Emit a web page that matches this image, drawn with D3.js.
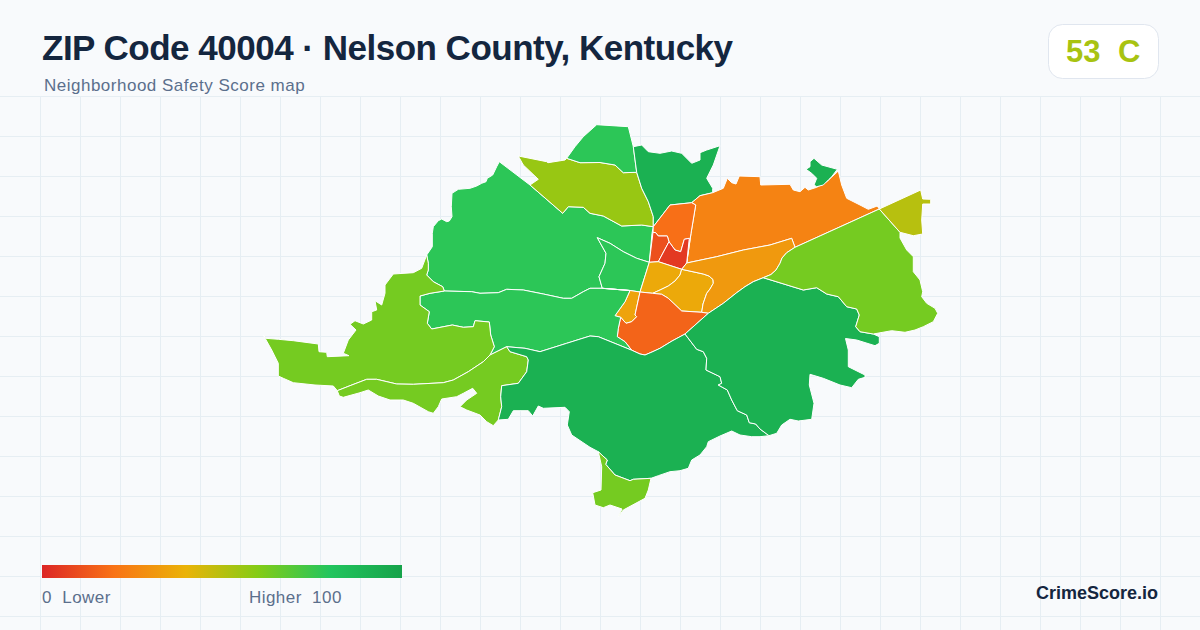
<!DOCTYPE html>
<html><head><meta charset="utf-8">
<script src="https://d3js.org/d3.v7.min.js"></script>
<style>html,body{margin:0;padding:0;background:#f8fafc}svg{display:block}text{font-family:"Liberation Sans",Arial,sans-serif}</style>
</head><body><svg id="c" width="1200" height="630"></svg>
<script>
const titleText = "ZIP Code 40004 · Nelson County, Kentucky";
const subtitleText = "Neighborhood Safety Score map";
const overallScore = 53, overallGrade = "C";
const brandText = "CrimeScore.io";
const legendLabels = ["0  Lower", "Higher  100"];
const colorDomain = [0, 20, 40, 60, 80, 100];
const colorRange = ["#dc2626", "#f97316", "#eab308", "#84cc16", "#22c55e", "#16a34a"];

// shared borders of the map, in map units
const nwOuter = [[499.3,161.7],[496.7,166.7],[492.7,175],[487.3,178.3],[486,181.7],[481.7,183.3],[476.7,186],[470,188.3],[458.3,189.3],[452,193.3],[451.3,206.7],[452,216.7],[449.3,221],[446.7,221.7],[441.7,219],[438.3,220.7],[433.3,226.7],[432.3,233.3],[432.3,246.7],[426.7,255]];
const nwLime = [[426.7,255],[428.3,263.3],[428.3,270],[426.7,275],[433.3,281.7],[442.7,286.7],[444.3,291]];
const nwBand = [[444.3,291],[471.7,291.7],[480,293.3],[498.3,292.7],[506.7,289.3],[523.3,290],[543.3,294],[563.3,298.3],[571.7,298.3],[583.3,291.7],[590,288.3],[602.3,288.3]];
const centerLeft = [[602.3,288.3],[599,276.7],[605,263.3],[606,253.3],[597.3,237.7]];
const centerTop = [[597.3,237.7],[610,243.3],[623.3,251.7],[636.7,258.3],[649.3,262.3]];
const nwEast = [[649.3,262.3],[652,233.3],[653.3,226.7]];
const oliveNw = [[653.3,226.7],[641.7,225],[621.7,226],[603.3,216],[590,213.3],[583.3,207.3],[568.3,206.7],[562.7,213.3],[530,185]];
const nwApex = [[530,185],[499.3,161.7]];
const centerEast = [[649.3,262.3],[640,292]];
const centerSouth = [[640,292],[630,290.5],[602.3,288.3]];
const oliveOuter = [[530,185],[538.3,179.3],[523.3,165],[518.3,156],[546.7,161.7],[548,162.7],[565,160],[566.7,158.3]];
const oliveTop = [[566.7,158.3],[580,162.7],[600,162.5],[615,165],[623.3,172.7],[636.7,172.3]];
const oliveEast = [[636.7,172.3],[641.7,188.3],[648.3,201.7],[653.3,216.7],[653.3,226.7]];
const topOuter = [[566.7,158.3],[575,146.7],[583.3,136.7],[596.7,124.7],[628.3,126.7],[633.3,146.7]];
const topEast = [[633.3,146.7],[636.7,172.3]];
const darkNOuter = [[633.3,146.7],[641.7,145],[648.3,151.7],[660,153.3],[671.7,151],[681.7,153.3],[691.7,163.3],[700,160],[700,152.7],[706.7,150],[720,145.7],[713.3,165],[706.7,178.3],[712.7,188.3],[712.7,192.7]];
const darkNSouth = [[712.7,192.7],[700,195.7],[691.7,202.7]];
const darkNWest = [[691.7,202.7],[670,205],[653.3,226.7]];
const bigOuter = [[712.7,192.7],[723.3,188.3],[727.3,178.3],[731.7,182.7],[736,184],[739.3,176],[760,176.7],[760.7,185],[790,184.3],[793.3,190],[800,191.7],[805,187.3],[808.3,190],[816.7,187.3],[826.7,181.7],[838.3,171],[841.7,185],[846.7,198.3],[860,205],[868.3,209.3],[877.3,206],[879.3,209]];
const bigEast = [[879.3,209],[795,247.3]];
const bigSouth = [[795,247.3],[791.7,238.3],[770,245],[743.3,250],[716.7,256.7],[686.7,263]];
const bigWest = [[686.7,263],[691,233.3],[695.7,205],[691.7,202.7]];
const redEast = [[669,241.7],[675,250],[680.7,251.7],[684.3,239.3],[689.3,238.3],[686.7,263]];
const northSmall = [[653.3,226.7],[653,232.3],[655.7,232.7],[658.3,236],[667.3,236],[669,241.7]];
const redWest = [[669,241.7],[658.3,261.7]];
const smallWest = [[653,232.3],[649.3,262.3]];
const smallSouth = [[649.3,262.3],[658.3,261.7]];
const redSouth = [[658.3,261.7],[681.7,269.3]];
const redCorner = [[681.7,269.3],[686.7,263]];
const amberMid = [[681.7,269.3],[680,275],[675,281],[668.3,286],[660,290],[652.7,293.3]];
const amberSouthL = [[640,292],[652.7,293.3]];
const amberSouthR = [[652.7,293.3],[661.7,294.3],[668.3,298.3],[681.7,311],[701.7,312.3]];
const amberEast = [[701.7,312.3],[703,304],[706.7,293.3],[710,289],[713.3,283.3],[713,279.5],[709,276],[703.3,274],[681.7,269.3]];
const midOrangeEnd = [[701.7,312.3],[708.3,313.3]];
const midSouthA = [[795,247.3],[786.7,252.7],[782,258],[780,263.3],[776,270],[771,274.5],[763.3,277.7]];
const midSouthB = [[763.3,277.7],[753.3,281.7],[745,286.7],[736.7,292.7],[723.3,303.3],[708.3,313.3]];
const slimWest = [[630,290.5],[625,301.7],[615,315.7],[620.7,317.3]];
const slimEast = [[640,292],[635,315],[636.7,316.7],[631.7,321.7],[626,323.3],[620.7,317.3]];
const southWest = [[620.7,317.3],[618.3,328.3],[617.3,336.7],[625,341.7],[631.7,350.2]];
const southBottom = [[631.7,350.2],[640,354],[645,355],[652,352],[660,348.3],[672,341],[685,334]];
const southEast = [[685,334],[708.3,313.3]];
const bandLeft = [[444.3,291],[430,293.3],[420,296],[420,305],[429.3,311.7],[427.3,323.3],[431.7,329],[452.3,325],[463.3,327.3],[473.3,326.7],[475,320.7],[489.3,322],[490.7,335],[494.3,346.7],[490,355]];
const bandQ = [[490,355],[506.7,346.7]];
const bandP = [[506.7,346.7],[525,348.3],[540,351.7],[566.7,343.3],[590,336],[598.3,336.7],[631.7,350.2]];
const limeBoundary = [[337.3,390.7],[350,385.7],[366.7,379.3],[376.7,379.3],[396.7,384],[413.3,384.3],[443.3,382.7],[453.3,380],[468.3,371.7],[483.3,361.7],[490,355]];
const limeOuter = [[426.7,255],[421.7,268.3],[413.3,272.7],[393.3,274],[385,285],[385,293.3],[381.7,305],[375,300.7],[376.7,310],[371.7,311.7],[371.7,320],[363.3,324],[355,320.7],[350,324.3],[356,330],[348.3,340],[343.3,353.3],[349,355.7],[327.3,356.7],[326.7,352.3],[319,351.7],[318.3,344],[293.3,340.7],[278.3,339.3],[265.7,338.3],[263.3,335],[271.7,350],[278.3,363.3],[278.3,376],[283.3,378.3],[293.3,382.7],[315,385],[333.3,386],[337.3,390.7]];
const lowerP = [[506.7,346.7],[510,351.7],[526.7,356.7],[528.3,360],[526.7,371.7],[518.3,383.3],[501.7,385.7],[500.7,396.7],[501.7,406.7],[498.3,420]];
const lowerOuter = [[498.3,420],[493.3,425.7],[486.7,421.7],[480,415],[466.7,410],[460,406.7],[466.7,400],[476.7,393.3],[472.7,388.3],[463.3,393.3],[456.7,396.7],[441.7,399],[438.3,406.7],[433.3,413.3],[428.3,411.7],[413.3,403.3],[403.3,400],[390,400],[378.3,396],[368.3,390],[360,392.7],[343.3,397.3],[339.3,396],[337.3,390.7]];
const riverSE = [[685,334],[696.7,349.3],[703.3,351.7],[706.7,358.3],[706,370],[720,376.7],[721.7,383.3],[718.3,385],[727.3,390],[731.7,400],[737.3,410.7],[746.7,415],[749.3,422.7],[755.7,424],[760,429],[769,435.7]];
const southOuterA = [[769,435.7],[760,436.7],[751.7,436.7],[740,435],[731.7,431],[720,436],[708.3,441.7],[706.7,446.7],[700,455],[691.7,460],[688.3,468.3],[680,470.7],[670,471.7],[658.3,475.7],[651,478.3]];
const tailTop = [[651,478.3],[633.3,479.3],[630,480.7],[615,475],[605.7,464.3],[607.3,460],[598.3,451.7]];
const southOuterB = [[598.3,451.7],[590,447.3],[571.7,435],[567.3,425],[569.3,411.7],[565,407.3],[543.3,408.3],[538.3,406],[532.7,416],[528.3,410.7],[513.3,410.7],[508.3,419.3],[498.3,420]];
const tailOuter = [[651,478.3],[648.3,490],[645,498.3],[623.3,510],[618.3,516.7],[622,509],[610,505],[603.3,507.7],[595,505],[592.7,492.7],[601,490],[601.7,466.7],[598.3,451.7]];
const eastBorder = [[763.3,277.7],[803.3,290],[816.7,287.7],[826.7,294],[838.3,296.7],[846.7,306.7],[856.7,309],[859.3,315],[855.7,326.7],[860,331.7],[873.3,334]];
const eastOuterS = [[873.3,334],[879.3,336.7],[879.3,343.3],[875,345.7],[856.7,340],[845.5,338.5],[848.3,350],[848.3,366.7],[865,375],[865,377.3],[858.3,379.3],[851.7,387.7],[840,385],[823.3,378.3],[810,374.3],[809.3,385],[814,403.3],[811.7,419.3],[798.3,421],[790,419.3],[781.7,425],[776.7,433.3],[769,435.7]];
const eastOuterF = [[873.3,334],[891.7,330.7],[905,332.3],[915,330],[923.3,326.7],[933.3,321.7],[937.7,313.3],[935,308.3],[926.7,303.3],[921.7,296.7],[922.7,291.7],[920,280],[913.3,271.7],[913.3,256.7],[906.7,250],[900,238],[900,232.3]];
const yellowWest = [[900,232.3],[879.3,209]];
const yellowOuter = [[879.3,209],[920.7,190],[922.7,199],[930.7,199.3],[930.7,204],[922.7,204],[921.7,220],[922.7,234],[913.3,235.7],[900,232.3]];
const islet = [[810,161.7],[814,158.3],[821.7,165],[837.3,169.3],[831.7,176.7],[828.3,180],[823.3,185],[816.7,186.7],[814,185],[816.7,178.3],[811.7,173.3],[806,169.3],[810,166.7]];

const rev = a => a.slice().reverse();
// geographic rings repeat their first point at the end
const ring = (...parts) => { const r = parts.flat(); r.push(r[0]); return r; };

const regionRings = [
  ring(nwOuter, nwLime, nwBand, centerLeft, centerTop, nwEast, oliveNw, nwApex),
  ring(centerTop, centerEast, centerSouth, centerLeft),
  ring(oliveOuter, oliveTop, oliveEast, oliveNw),
  ring(topOuter, topEast, rev(oliveTop)),
  ring(darkNOuter, darkNSouth, darkNWest, rev(oliveEast), rev(topEast)),
  ring(bigOuter, bigEast, bigSouth, bigWest, rev(darkNSouth)),
  ring(darkNWest, northSmall, redEast, bigWest),
  ring(rev(northSmall).slice(0,5), smallWest, smallSouth, rev(redWest)),
  ring(redEast, rev(redCorner), rev(redSouth), rev(redWest)),
  ring(smallSouth, redSouth, amberMid, rev(amberSouthL), rev(centerEast)),
  ring(amberMid, amberSouthR, amberEast),
  ring(rev(bigSouth), midSouthA, midSouthB, rev(midOrangeEnd), amberEast, redCorner),
  ring(slimWest, rev(slimEast), [[640,292],[630,290.5]]),
  ring(rev(slimEast), amberSouthL, amberSouthR, midOrangeEnd, rev(southEast), rev(southBottom), rev(southWest)),
  ring(bandLeft, bandQ, bandP, rev(southWest), rev(slimWest), rev(centerSouth).slice(0,2), rev(nwBand)),
  ring(limeOuter, limeBoundary, rev(bandLeft), rev(nwLime)),
  ring(limeBoundary, bandQ, lowerP, lowerOuter),
  ring(bandP, southBottom, riverSE, southOuterA, tailTop, southOuterB, rev(lowerP)),
  ring(rev(midSouthB), eastBorder, eastOuterS, rev(riverSE), southEast),
  ring(bigEast, midSouthA, eastBorder, eastOuterF, yellowWest),
  ring(yellowOuter, yellowWest),
  ring(tailOuter, rev(tailTop)),
  ring(islet)
];
const regionScores = [78, 78, 56, 78, 92, 25, 19, 11, 5, 37, 37, 32, 35, 16, 78, 63, 63, 92, 92, 63, 50, 63, 92];

const color = d3.scaleLinear().domain(colorDomain).range(colorRange).interpolate(d3.interpolateRgb);
const svg = d3.select("#c");
const W = 1200, H = 630;

svg.append("rect").attr("width", W).attr("height", H).attr("fill", "#f8fafc");

const gridX = d3.range(40, W, 40), gridY = d3.range(96, H, 40);
const grid = svg.append("g").attr("stroke", "#e6eef3").attr("stroke-width", 1);
grid.selectAll("line.v").data(gridX).join("line").attr("class","v")
  .attr("x1", d => d + .5).attr("x2", d => d + .5).attr("y1", 96).attr("y2", H);
grid.selectAll("line.h").data(gridY).join("line").attr("class","h")
  .attr("x1", 0).attr("x2", W).attr("y1", d => d + .5).attr("y2", d => d + .5);

const features = regionRings.map((r, i) => ({type:"Feature", properties:{score: regionScores[i]}, geometry:{type:"Polygon", coordinates:[r]}}));
const path = d3.geoPath(d3.geoIdentity());
svg.append("g").selectAll("path").data(features).join("path")
  .attr("d", path)
  .attr("fill", d => color(d.properties.score))
  .attr("stroke", "#fff").attr("stroke-width", 1).attr("stroke-linejoin", "round");

svg.append("text").attr("x", 42).attr("y", 60).attr("font-size", 35).attr("letter-spacing", -.5).attr("font-weight", 700).attr("fill", "#14263f").text(titleText);
svg.append("text").attr("x", 44).attr("y", 91).attr("font-size", 17).attr("letter-spacing", .5).attr("fill", "#5b6f8c").text(subtitleText);

svg.append("rect").attr("x", 1048.5).attr("y", 24.5).attr("width", 110).attr("height", 54).attr("rx", 14)
  .attr("fill", "#fff").attr("stroke", "#e0e6ef");
svg.append("text").attr("x", 1066).attr("y", 62).attr("font-size", 31).attr("font-weight", 700).attr("fill", color(overallScore)).text(overallScore);
svg.append("text").attr("x", 1118).attr("y", 62).attr("font-size", 31).attr("font-weight", 700).attr("fill", color(overallScore)).text(overallGrade);

const grad = svg.append("defs").append("linearGradient").attr("id", "lg");
grad.selectAll("stop").data(colorDomain).join("stop")
  .attr("offset", d => d + "%").attr("stop-color", d => color(d));
svg.append("rect").attr("x", 42).attr("y", 565).attr("width", 360).attr("height", 13).attr("fill", "url(#lg)");
svg.append("text").attr("x", 42).attr("y", 603).attr("font-size", 17).attr("letter-spacing", .45).attr("fill", "#5b6f8c").attr("style","white-space:pre").text(legendLabels[0]);
svg.append("text").attr("x", 249).attr("y", 603).attr("font-size", 17).attr("letter-spacing", .45).attr("fill", "#5b6f8c").attr("style","white-space:pre").text(legendLabels[1]);
svg.append("text").attr("x", 1158).attr("y", 599).attr("text-anchor", "end").attr("font-size", 18).attr("font-weight", 700).attr("fill", "#14263f").text(brandText);
</script></body></html>
